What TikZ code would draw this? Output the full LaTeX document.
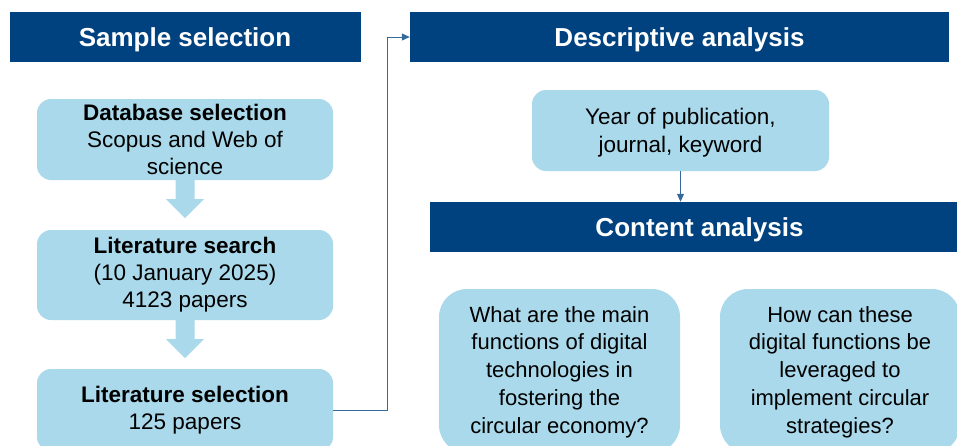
\documentclass[tikz,border=0pt]{standalone}
\usepackage{fontspec}
\setmainfont{Liberation Sans}
\usetikzlibrary{arrows.meta,calc}
\definecolor{hdrblue}{HTML}{00427F}
\definecolor{boxblue}{HTML}{A9D9EA}
\definecolor{lineblue}{HTML}{35699E}
\tikzset{
  header/.style={fill=hdrblue, text=white, inner sep=0pt, minimum width=#1, minimum height=50pt,
    text height=18.6pt, text depth=0pt, font=\fontsize{26}{30}\selectfont\bfseries},
  stepbox/.style={fill=boxblue, rounded corners=14pt, inner sep=0pt, minimum width=296pt, minimum height=#1,
    align=center, font=\fontsize{22.5}{27}\selectfont},
  qbox/.style={fill=boxblue, rounded corners=28pt, inner sep=0pt, minimum width=241pt, minimum height=164pt,
    align=center, font=\fontsize{22}{27.8}\selectfont},
  conn/.style={draw=lineblue, line width=1pt, -{Triangle[length=8pt,width=7pt]}},
}
\begin{document}
\begin{tikzpicture}[x=1pt,y=-1pt]
\useasboundingbox (0,0) rectangle (957,445);
\clip (0,0) rectangle (957,445);
% headers
\node[header=351pt] (hs) at (185,37) {Sample selection};
\node[header=539pt] (hd) at (679.5,37) {Descriptive analysis};
\node[header=539pt] (hc) at (699.5,227) {Content analysis};
% left column boxes
\node[stepbox=81pt] (db) at (185,139.5) {\textbf{Database selection}\\Scopus and Web of\\science};
\node[stepbox=90pt] (ls) at (185,275) {\textbf{Literature search}\\(10 January 2025)\\4123 papers};
\node[stepbox=82pt] (lsel) at (185,410) {\textbf{Literature selection}\\125 papers};
% block arrows
\foreach \a/\b in {db/ls, ls/lsel}{
  \fill[boxblue] ($(\a.south)+(-9.5,0)$) -- ++(0,19) -- ++(-9.5,0) -- ($(\a.south)+(0,38)$)
     -- ($(\a.south)+(19,19)$) -- ++(-9.5,0) -- ($(\a.south)+(9.5,0)$) -- cycle;
}
% right column
\node[stepbox=81pt, minimum width=297pt] (yr) at (680.5,130.5) {};
\node[font=\fontsize{22.5}{28}\selectfont, align=center, inner sep=0pt] (yrt) at (680.5,133) {Year of publication,\\journal, keyword};
\node[qbox] (q1) at (559.5,371) {};
\node[qbox, minimum width=240pt] (q2) at (840,371) {};
\node[font=\fontsize{22}{27.8}\selectfont, align=center, inner sep=0pt] (q1t) at (559.5,372) {What are the main\\functions of digital\\technologies in\\fostering the\\circular economy?};
\node[font=\fontsize{22}{27.8}\selectfont, align=center, inner sep=0pt] (q2t) at (840,372) {How can these\\digital functions be\\leveraged to\\implement circular\\strategies?};
% connectors
\draw[conn] (lsel.east) -- ++(54,0) |- (hd.west);
\draw[conn] (yr.south) -- (yr.south |- hc.north);
\end{tikzpicture}
\end{document}
